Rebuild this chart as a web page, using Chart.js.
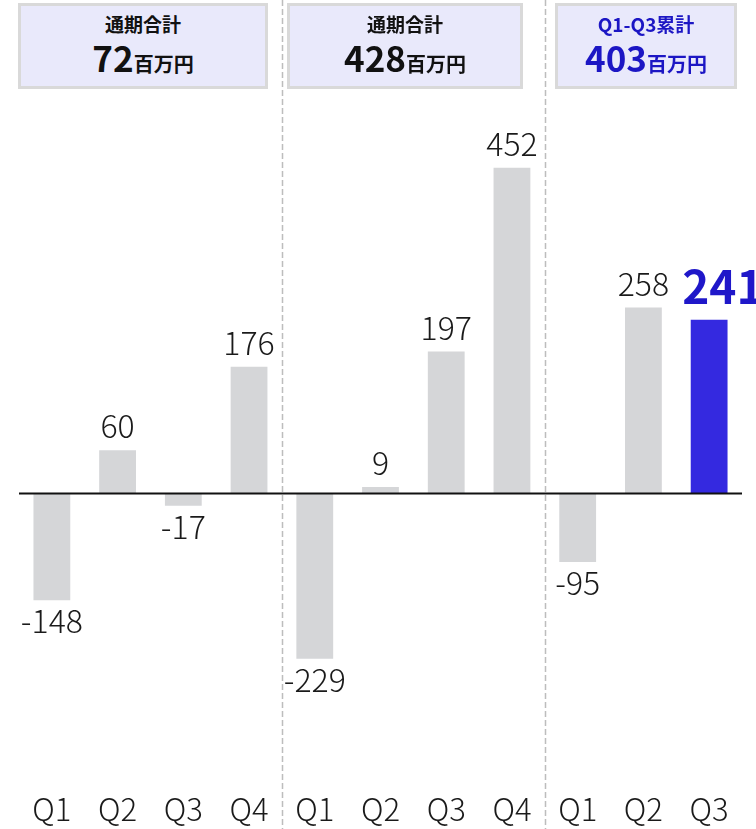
<!DOCTYPE html>
<html lang="ja">
<head>
<meta charset="utf-8">
<title>四半期別 営業利益</title>
<script src="https://cdn.jsdelivr.net/npm/chart.js@4/dist/chart.umd.min.js"></script>
<style>
  html, body { margin: 0; padding: 0; background: #fff; }
  #wrap { position: relative; width: 756px; height: 829px; overflow: hidden; }
  #c { position: absolute; left: 0; top: 0; }
  .box {
    position: absolute; top: 3px; height: 80px;
    background: #e9e9fb; border: 3px solid #d9d9d9;
    font-family: "Noto Sans CJK JP", sans-serif; font-weight: 700;
    color: #111; text-align: center;
  }
  .box .t { font-size: 19px; line-height: 22px; margin-top: 7px; }
  .box .v { font-size: 35px; line-height: 40px; margin-top: 2px; }
  .box .u { font-size: 20px; }
  .box.cur { color: #1c16c4; }
</style>
</head>
<body>
<div id="wrap">
  <canvas id="c" width="756" height="829"></canvas>
</div>
<script>
// 四半期ラベルと各四半期の値（百万円）
const quarters = ["Q1", "Q2", "Q3", "Q4", "Q1", "Q2", "Q3", "Q4", "Q1", "Q2", "Q3"];
const values   = [-148, 60, -17, 176, -229, 9, 197, 452, -95, 258, 241];
// 期ごとの区切り（各期の最初の四半期のインデックス）
const periodStarts = [0, 4, 8];
// 期ごとの見出しと合計
const periodTitles = ["通期合計", "通期合計", "Q1-Q3累計"];
const periodTotals = ["72", "428", "403"];
const unit = "百万円";
// 強調する四半期（最新）
const currentIndex = 10;

const GREY = "#d5d6d8";
const BLUE = "#3429e0";
const LABEL_FONT = '"Noto Sans CJK JP", sans-serif';

// 見出しボックス
const boxGeom = [
  { left: 18, width: 244 },
  { left: 287, width: 230 },
  { left: 555, width: 176 }
];
const wrap = document.getElementById("wrap");
periodTitles.forEach((t, i) => {
  const d = document.createElement("div");
  d.className = "box" + (i === periodTitles.length - 1 ? " cur" : "");
  d.style.left = boxGeom[i].left + "px";
  d.style.width = boxGeom[i].width + "px";
  d.innerHTML = '<div class="t">' + t + '</div><div class="v">' + periodTotals[i] +
                '<span class="u">' + unit + '</span></div>';
  wrap.appendChild(d);
});

// ゼロ線と期の区切り線
const guides = {
  id: "guides",
  beforeDatasetsDraw(chart) {
    const { ctx, scales } = chart;
    const x = scales.x;
    ctx.save();
    ctx.strokeStyle = "#bdbdbd";
    ctx.lineWidth = 1.5;
    ctx.setLineDash([6, 3]);
    periodStarts.slice(1).forEach(s => {
      const px = Math.round((x.getPixelForValue(s - 1) + x.getPixelForValue(s)) / 2) + 0.5;
      ctx.beginPath();
      ctx.moveTo(px, 0);
      ctx.lineTo(px, chart.height);
      ctx.stroke();
    });
    ctx.restore();
  },
  afterDatasetsDraw(chart) {
    const { ctx, chartArea, scales } = chart;
    const y0 = scales.y.getPixelForValue(0);
    ctx.save();
    ctx.strokeStyle = "#111";
    ctx.lineWidth = 2;
    ctx.beginPath();
    ctx.moveTo(chartArea.left, y0);
    ctx.lineTo(chartArea.right, y0);
    ctx.stroke();
    ctx.restore();
  }
};

// 棒の値ラベル
const valueLabels = {
  id: "valueLabels",
  afterDatasetsDraw(chart) {
    const { ctx } = chart;
    const meta = chart.getDatasetMeta(0);
    ctx.save();
    meta.data.forEach((bar, i) => {
      const v = values[i];
      const txt = String(v);
      ctx.textBaseline = "alphabetic";
      if (i === currentIndex) {
        ctx.font = "700 46px " + LABEL_FONT;
        ctx.fillStyle = "#1f17c9";
        ctx.textAlign = "left";
        ctx.fillText(txt, bar.x - 27, bar.y - 16);
        return;
      }
      ctx.font = "300 32px " + LABEL_FONT;
      ctx.fillStyle = "#1a1a1a";
      ctx.textAlign = "center";
      const ty = v >= 0 ? bar.y - 12 : bar.y + 33;
      ctx.fillText(txt, bar.x, ty);
    });
    ctx.restore();
  }
};

new Chart(document.getElementById("c"), {
  type: "bar",
  data: {
    labels: quarters,
    datasets: [{
      data: values,
      backgroundColor: values.map((v, i) => i === currentIndex ? BLUE : GREY),
      borderWidth: 0,
      barPercentage: 0.56,
      categoryPercentage: 1.0
    }]
  },
  options: {
    responsive: false,
    animation: false,
    layout: { padding: { top: 61, left: 19, right: 14, bottom: -7 } },
    plugins: {
      legend: { display: false },
      tooltip: { enabled: false }
    },
    scales: {
      x: {
        grid: { display: false },
        border: { display: false },
        ticks: {
          color: "#1a1a1a",
          padding: 8,
          font: { family: LABEL_FONT, size: 31, weight: 300 }
        }
      },
      y: {
        display: false,
        min: -390,
        max: 600
      }
    }
  },
  plugins: [guides, valueLabels]
});
</script>
</body>
</html>
